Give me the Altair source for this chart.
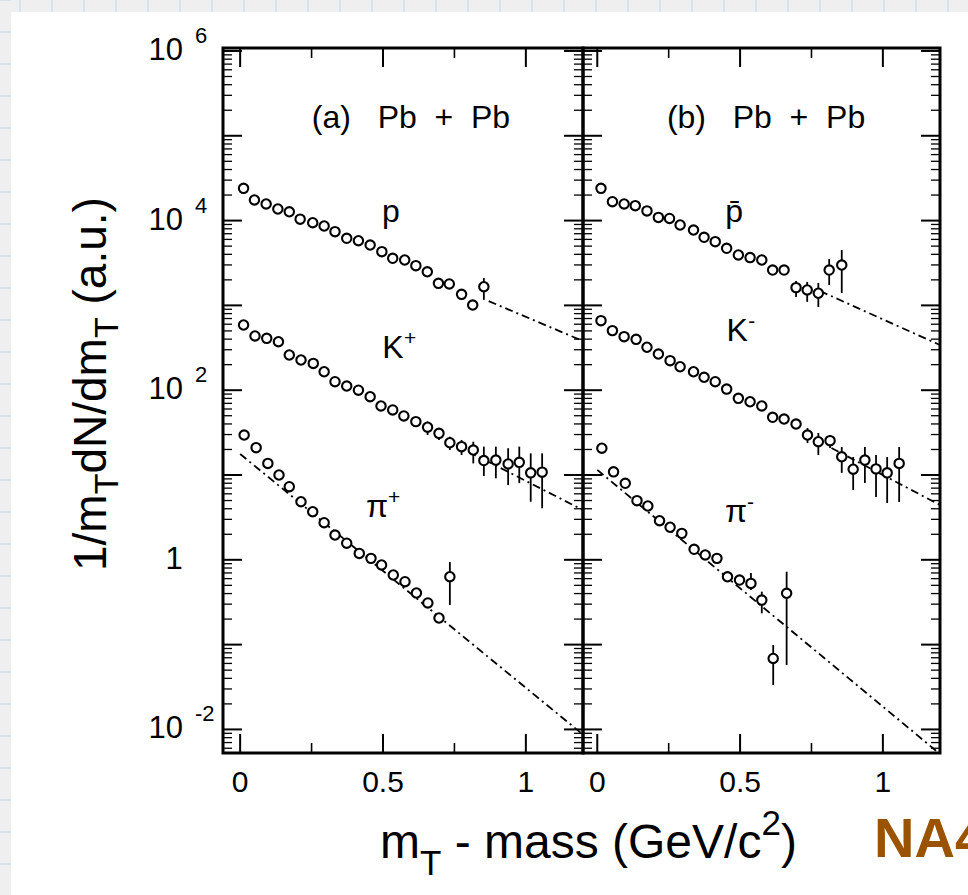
import altair as alt
import pandas as pd

FONT = "Liberation Sans, Arial, Helvetica, sans-serif"
NB = "\u00a0"

# ---------------------------------------------------------------
# m_T spectra, Pb + Pb  (x: m_T - mass in GeV/c^2, y: 1/m_T dN/dm_T)
# ---------------------------------------------------------------
# panel (a): positive particles
prot_x = [0.012, 0.050, 0.091, 0.132, 0.172, 0.210, 0.254, 0.294, 0.332, 0.373, 0.414,
          0.455, 0.496, 0.534, 0.576, 0.615, 0.655, 0.694, 0.732, 0.775, 0.814, 0.853]
prot_y = [24000, 17500, 15700, 13700, 12700, 10400, 9440, 8630, 7400, 6180, 5790,
          5150, 4300, 3590, 3430, 2940, 2490, 1820, 1790, 1350, 1010, 1660]
prot_err_x = [0.853]
prot_err_lo = [1160]
prot_err_hi = [2100]

kplus_x = [0.012, 0.052, 0.093, 0.134, 0.172, 0.213, 0.256, 0.294, 0.332, 0.373, 0.414,
           0.455, 0.493, 0.534, 0.573, 0.615, 0.656, 0.696, 0.734, 0.775, 0.816, 0.853,
           0.895, 0.938, 0.977, 1.017, 1.057]
kplus_y = [587, 436, 409, 373, 260, 227, 207, 165, 126, 112, 100,
           83.8, 65.2, 58.5, 49.7, 42.6, 36.6, 31.0, 24.0, 21.6, 19.7, 14.8,
           15.0, 13.5, 14.1, 10.6, 10.8]
kplus_err_x = [0.656, 0.696, 0.734, 0.775, 0.816, 0.853, 0.895, 0.938, 0.977, 1.017, 1.057]
kplus_err_lo = [29.6, 25.9, 19.7, 17.2, 13.7, 9.73, 9.14, 7.62, 8.02, 4.84, 4.05]
kplus_err_hi = [42.6, 35.8, 28.3, 25.9, 24.7, 21.6, 21.6, 20.7, 21.6, 18.0, 18.0]

piplus_x = [0.014, 0.056, 0.097, 0.136, 0.172, 0.213, 0.254, 0.294, 0.332, 0.373,
            0.417, 0.458, 0.495, 0.536, 0.577, 0.617, 0.657, 0.696, 0.734]
piplus_y = [29.6, 21.0, 13.7, 10.0, 7.28, 4.84, 3.69, 2.74, 1.96, 1.57,
            1.19, 1.04, 0.869, 0.662, 0.552, 0.406, 0.310, 0.206, 0.632]
piplus_err_x = [0.734]
piplus_err_lo = [0.293]
piplus_err_hi = [0.942]

# panel (b): negative particles
pbar_x = [0.013, 0.053, 0.094, 0.133, 0.174, 0.214, 0.253, 0.290, 0.337, 0.374, 0.413,
          0.453, 0.494, 0.535, 0.576, 0.614, 0.654, 0.696, 0.735, 0.774, 0.812, 0.856]
pbar_y = [24000, 16700, 15700, 15000, 13000, 10900, 10600, 8870, 7740, 6350, 5640,
          4710, 3930, 3660, 3430, 2610, 2610, 1620, 1520, 1390, 2610, 2990]
pbar_err_x = [0.696, 0.735, 0.774, 0.812, 0.856]
pbar_err_lo = [1260, 1100, 957, 1740, 1400]
pbar_err_hi = [1940, 1890, 1840, 3520, 4500]

kminus_x = [0.013, 0.053, 0.094, 0.136, 0.174, 0.214, 0.255, 0.290, 0.337, 0.374, 0.413,
            0.453, 0.494, 0.535, 0.576, 0.614, 0.654, 0.696, 0.736, 0.774, 0.815, 0.856,
            0.896, 0.937, 0.976, 1.015, 1.057]
kminus_y = [661, 504, 428, 398, 321, 267, 223, 189, 165, 142, 126,
            103, 80.2, 73.1, 65.2, 47.9, 45.7, 39.9, 29.6, 24.7, 25.4, 16.4,
            11.7, 15.0, 11.8, 10.6, 13.7]
kminus_err_x = [0.736, 0.774, 0.815, 0.856, 0.896, 0.937, 0.976, 1.015, 1.057]
kminus_err_lo = [23.8, 17.2, 20.8, 10.6, 6.65, 8.05, 5.51, 4.68, 4.81]
kminus_err_hi = [35.8, 31.3, 29.6, 21.4, 16.3, 21.4, 17.2, 16.3, 21.4]

piminus_x = [0.016, 0.057, 0.098, 0.139, 0.177, 0.218, 0.255, 0.296, 0.339, 0.378,
             0.419, 0.456, 0.498, 0.538, 0.576, 0.616, 0.663]
piminus_y = [20.7, 10.9, 7.98, 4.98, 4.31, 2.89, 2.42, 2.05, 1.33, 1.14,
             1.04, 0.631, 0.577, 0.527, 0.335, 0.0687, 0.403]
piminus_err_x = [0.538, 0.576, 0.616, 0.663]
piminus_err_lo = [0.441, 0.234, 0.0334, 0.0574]
piminus_err_hi = [0.698, 0.421, 0.0989, 0.724]

# exponential fits (dash-dotted), end points
fit_a_name = ["p", "p", "K+", "K+", "pi+", "pi+"]
fit_a_x = [0.87, 1.2, 0.80, 1.2, 0.0, 1.2]
fit_a_y = [1122, 380, 18.8, 3.86, 17.7, 0.00869]
fit_b_name = ["pbar", "pbar", "K-", "K-", "pi-", "pi-"]
fit_b_x = [0.78, 1.2, 0.82, 1.2, 0.0, 1.2]
fit_b_y = [1476, 341, 20.8, 4.43, 11.5, 0.00513]

# in-plot labels
title_a = "(a)" + NB * 3 + "Pb" + NB * 2 + "+" + NB * 2 + "Pb"
title_b = "(b)" + NB * 3 + "Pb" + NB * 2 + "+" + NB * 2 + "Pb"
title_pos_a = (0.598, 123600)
title_pos_b = (0.591, 123600)
names_a = ["p", "K", "\u03c0"]
sups_a = ["", "+", "+"]
names_a_x = [0.528, 0.535, 0.479]
names_a_y = [9620, 240, 3.2]
names_b = ["p\u0304", "K", "\u03c0"]
sups_b = ["", "-", "-"]
names_b_x = [0.479, 0.49, 0.486]
names_b_y = [9620, 380, 2.79]

# axis ticks and labels
y_label_vals = [1e6, 1e4, 1e2, 1e-2]
y_label_exps = ["6", "4", "2", "-2"]
x_label_vals = [0, 0.5, 1]
x_label_text = ["0", "0.5", "1"]
y_major = [1e-2, 1e-1, 1, 1e1, 1e2, 1e3, 1e4, 1e5, 1e6]
x_major = [0, 0.5, 1.0]
x_minor = [0.25, 0.75]

# ---------------------------------------------------------------
# geometry
# ---------------------------------------------------------------
CANVAS_W, CANVAS_H = 968, 895
LEFT, TOP = 223, 48
H = 705
W_A, W_B = 360, 357
Y_DOMAIN = [10 ** -2.278, 10 ** 6.035]
X_DOMAIN_A = [-0.06, 1.2]
X_DOMAIN_B = [-0.05, 1.2]
y_minor = [m * 10.0 ** k for k in range(-3, 7) for m in range(2, 10)
           if Y_DOMAIN[0] <= m * 10.0 ** k <= Y_DOMAIN[1]]

ARIAL = {"1": 556, "/": 278, "m": 833, "T": 611, "d": 556, "N": 722, NB: 278, " ": 278,
         "(": 333, "a": 556, ".": 278, "u": 556, ")": 333, "-": 333, "s": 500,
         "G": 778, "e": 556, "V": 667, "c": 500, "2": 556}


def tw(s, size):
    return sum(ARIAL[c] for c in s) * size / 1000.0


ONE = pd.DataFrame({"k": [0]})


def series_frame(xs, ys, name):
    return pd.DataFrame({"x": xs, "y": ys, "s": name})


def err_frame(xs, lo, hi):
    return pd.DataFrame({"x": xs, "lo": lo, "hi": hi})


def panel(points, errors, fits, title, title_pos, names, sups, nx, ny, width, xdom,
          back=(), front=()):
    xs = alt.Scale(domain=xdom, nice=False, zero=False)
    ys = alt.Scale(type="log", domain=Y_DOMAIN, nice=False)

    def X(f):
        return alt.X(f, type="quantitative", scale=xs, axis=None)

    def Y(f):
        return alt.Y(f, type="quantitative", scale=ys, axis=None)

    layers = list(back)

    layers.append(
        alt.Chart(fits).mark_line(color="black", strokeWidth=1.8,
                                  strokeDash=[8, 4, 2, 4], clip=True)
        .encode(x=X("x"), y=Y("y"), detail="s:N")
    )
    layers.append(
        alt.Chart(errors).mark_rule(color="black", strokeWidth=1.8, clip=True)
        .encode(x=X("x"), y=Y("lo"), y2="hi")
    )
    layers.append(
        alt.Chart(points).mark_point(shape="circle", fill="white", fillOpacity=1,
                                     stroke="black", strokeWidth=2.1, size=88, opacity=1)
        .encode(x=X("x"), y=Y("y"))
    )

    # inward ticks on all four sides
    for vals, length, sw in ((y_major, 19, 2.0), (y_minor, 9, 1.3)):
        d = pd.DataFrame({"v": vals})
        for x0, x1 in ((0, length), (width, width - length)):
            layers.append(
                alt.Chart(d).mark_rule(color="black", strokeWidth=sw)
                .encode(y=Y("v"), x=alt.value(x0), x2=alt.value(x1))
            )
    for vals, length, sw in ((x_major, 19, 2.0), (x_minor, 10, 1.6)):
        d = pd.DataFrame({"v": vals})
        for y0, y1 in ((0, length), (H, H - length)):
            layers.append(
                alt.Chart(d).mark_rule(color="black", strokeWidth=sw)
                .encode(x=X("v"), y=alt.value(y0), y2=alt.value(y1))
            )

    # frame
    layers.append(
        alt.Chart(ONE).mark_rect(fillOpacity=0, stroke="black", strokeWidth=3)
        .encode(x=alt.value(0), x2=alt.value(width), y=alt.value(0), y2=alt.value(H))
    )

    # panel title and particle labels
    layers.append(
        alt.Chart(pd.DataFrame({"x": [title_pos[0]], "y": [title_pos[1]], "t": [title]}))
        .mark_text(font=FONT, fontSize=32, align="center", baseline="alphabetic", color="black")
        .encode(x=X("x"), y=Y("y"), text="t:N")
    )
    lab = pd.DataFrame({"x": nx, "y": ny, "t": names, "u": sups})
    layers.append(
        alt.Chart(lab).mark_text(font=FONT, fontSize=32, align="center",
                                 baseline="alphabetic", color="black")
        .encode(x=X("x"), y=Y("y"), text="t:N")
    )
    layers.append(
        alt.Chart(lab[lab["u"] != ""]).mark_text(font=FONT, fontSize=21, align="left",
                                                 baseline="alphabetic", dx=11, dy=-13,
                                                 color="black")
        .encode(x=X("x"), y=Y("y"), text="u:N")
    )

    # x tick labels
    layers.append(
        alt.Chart(pd.DataFrame({"v": x_label_vals, "t": x_label_text}))
        .mark_text(font=FONT, fontSize=30, align="center", baseline="middle", color="black")
        .encode(x=X("v"), y=alt.value(H + 30), text="t:N")
    )

    layers.extend(front)
    return alt.layer(*layers).properties(width=width, height=H)


# ---------------- page background and left-panel extras ----------------
ys_shared = alt.Scale(type="log", domain=Y_DOMAIN, nice=False)

back_a = [
    alt.Chart(ONE).mark_rect(color="#efefef").encode(
        x=alt.value(-LEFT), x2=alt.value(CANVAS_W - LEFT),
        y=alt.value(-TOP), y2=alt.value(CANVAS_H - TOP)),
    alt.Chart(ONE).mark_rule(color="#d3e5ef", strokeWidth=12, strokeDash=[2, 30],
                             strokeDashOffset=13).encode(
        x=alt.value(-LEFT), x2=alt.value(CANVAS_W - LEFT), y=alt.value(-TOP + 6)),
    alt.Chart(ONE).mark_rule(color="#d3e5ef", strokeWidth=11, strokeDash=[2, 30],
                             strokeDashOffset=1).encode(
        x=alt.value(-LEFT + 5.5), y=alt.value(-TOP), y2=alt.value(CANVAS_H - TOP)),
    alt.Chart(ONE).mark_rect(color="white").encode(
        x=alt.value(-LEFT + 11), x2=alt.value(CANVAS_W - LEFT),
        y=alt.value(-TOP + 12), y2=alt.value(CANVAS_H - TOP)),
]

front_a = []
# y tick labels: "10" with raised exponent, and a plain "1"
ylab = pd.DataFrame({"v": y_label_vals, "e": y_label_exps, "b": ["10"] * len(y_label_vals)})
front_a.append(
    alt.Chart(ylab).mark_text(font=FONT, fontSize=31, align="right", baseline="middle",
                              color="black")
    .encode(y=alt.Y("v:Q", scale=ys_shared, axis=None), x=alt.value(-40), text="b:N"))
front_a.append(
    alt.Chart(ylab).mark_text(font=FONT, fontSize=22, align="left", baseline="middle",
                              dy=-15, color="black")
    .encode(y=alt.Y("v:Q", scale=ys_shared, axis=None), x=alt.value(-28), text="e:N"))
front_a.append(
    alt.Chart(pd.DataFrame({"v": [1.0], "b": ["1"]}))
    .mark_text(font=FONT, fontSize=31, align="center", baseline="middle", color="black")
    .encode(y=alt.Y("v:Q", scale=ys_shared, axis=None), x=alt.value(-49), text="b:N"))


def piece(text, size, x, y, angle=0):
    return (alt.Chart(ONE)
            .mark_text(text=text, font=FONT, fontSize=size, align="left",
                       baseline="alphabetic", angle=angle, color="black")
            .encode(x=alt.value(x), y=alt.value(y)))


# x title: m_T - mass (GeV/c^2); (text, size, baseline shift, space before)
XT_F, XT_S = 48, 35
xt_x, xt_base = 380 - LEFT, 858 - TOP
cur = xt_x
for txt, size, shift, gap in (("m", XT_F, 0, 0), ("T", XT_S, 17, 0),
                              ("-" + NB + "mass" + NB + "(GeV/c", XT_F, 0, tw(" ", XT_F)),
                              ("2", XT_S, -23, 0), (")", XT_F, 0, 0)):
    cur += gap
    front_a.append(piece(txt, size, cur, xt_base + shift))
    cur += tw(txt, size)

# y title: 1/m_T dN/dm_T (a.u.), reading upwards
YT_F, YT_S = 46, 34
yt_base, yt_start = 106 - LEFT, 571 - TOP
cur = yt_start
for txt, sub, gap in (("1/m", False, 0), ("T", True, 0), ("dN/dm", False, 0),
                      ("T", True, 0), ("(a.u.)", False, tw(" ", YT_F))):
    size = YT_S if sub else YT_F
    cur -= gap
    front_a.append(piece(txt, size, yt_base + (12 if sub else 0), cur, angle=270))
    cur -= tw(txt, size)

# experiment tag, running off the right edge of the page
front_a.append(
    alt.Chart(ONE).mark_text(text="NA44", font="Liberation Sans", fontSize=56,
                             fontWeight="bold", align="left", baseline="alphabetic",
                             color="#9a5300")
    .encode(x=alt.value(874 - LEFT), y=alt.value(857 - TOP)))

points_a = pd.concat([series_frame(prot_x, prot_y, "p"),
                      series_frame(kplus_x, kplus_y, "K+"),
                      series_frame(piplus_x, piplus_y, "pi+")])
errors_a = pd.concat([err_frame(prot_err_x, prot_err_lo, prot_err_hi),
                      err_frame(kplus_err_x, kplus_err_lo, kplus_err_hi),
                      err_frame(piplus_err_x, piplus_err_lo, piplus_err_hi)])
fits_a = pd.DataFrame({"s": fit_a_name, "x": fit_a_x, "y": fit_a_y})

points_b = pd.concat([series_frame(pbar_x, pbar_y, "pbar"),
                      series_frame(kminus_x, kminus_y, "K-"),
                      series_frame(piminus_x, piminus_y, "pi-")])
errors_b = pd.concat([err_frame(pbar_err_x, pbar_err_lo, pbar_err_hi),
                      err_frame(kminus_err_x, kminus_err_lo, kminus_err_hi),
                      err_frame(piminus_err_x, piminus_err_lo, piminus_err_hi)])
fits_b = pd.DataFrame({"s": fit_b_name, "x": fit_b_x, "y": fit_b_y})

left = panel(points_a, errors_a, fits_a, title_a, title_pos_a, names_a, sups_a,
             names_a_x, names_a_y, W_A, X_DOMAIN_A, back=back_a, front=front_a)
right = panel(points_b, errors_b, fits_b, title_b, title_pos_b, names_b, sups_b,
              names_b_x, names_b_y, W_B, X_DOMAIN_B)

# fixed-size page: the plot origin sits at (LEFT, TOP), anything past the edge is cut
chart = (alt.hconcat(left, right, spacing=0, bounds="flush")
         .properties(autosize=alt.AutoSizeParams(type="none"),
                     padding={"left": LEFT, "top": TOP,
                              "right": CANVAS_W - LEFT, "bottom": CANVAS_H - TOP},
                     background="#efefef")
         .configure_view(stroke=None))

chart.save("out.html", embed_options={"renderer": "svg", "actions": False})
